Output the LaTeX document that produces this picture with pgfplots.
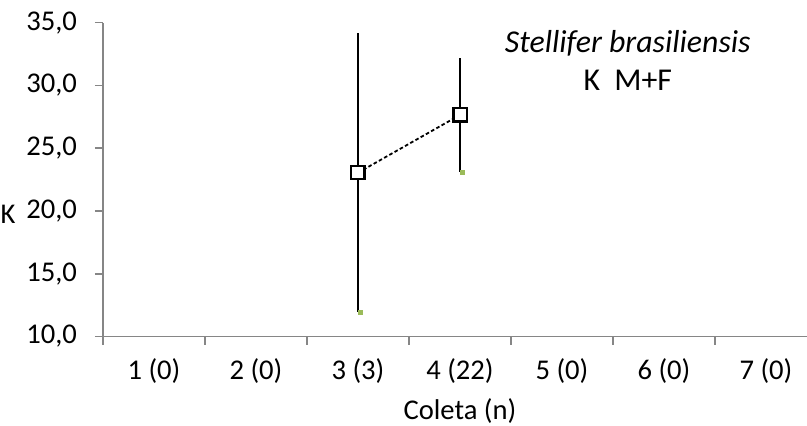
\documentclass[border=0pt]{standalone}
\usepackage{pgfplots}
\pgfplotsset{compat=1.18}
\usepackage{fontspec}
\setmainfont{Carlito}
\definecolor{axgray}{HTML}{868686}
\definecolor{capgreen}{HTML}{9BBB59}
\begin{document}
\begin{tikzpicture}
\path[use as bounding box, clip] (-51.5pt,-44.25pt) rectangle (352pt,168.25pt);
\begin{axis}[
  at={(0,0)}, anchor=south west, scale only axis,
  width=357pt, height=156.9pt,
  xmin=0, xmax=7, ymin=10, ymax=35,
  clip=false,
  axis x line*=bottom, axis y line*=left,
  axis line style={axgray, line width=0.75pt},
  tick style={axgray, line width=0.75pt},
  tick align=outside, major tick length=4pt,
  xtick={0,...,7}, x tick label as interval,
  xticklabels={1 (0),2 (0),3 (3),4 (22),5 (0),6 (0),7 (0)},
  ytick={10,15,...,35},
  ticklabel style={font=\fontsize{14.3}{17}\selectfont, black},
  xticklabel style={yshift=-3.5pt},
  yticklabel style={xshift=-5.5pt, /pgf/number format/.cd, fixed, fixed zerofill, precision=1, use comma, assume math mode=true},
  xlabel={Coleta (n)},
  xlabel style={font=\fontsize{14.3}{17}\selectfont, at={(axis description cs:0.5,-0.236)}, anchor=center},
]
\addplot[only marks, mark=none, black,
  error bars/.cd, y dir=both, y explicit,
  error bar style={line width=1pt, black}, error mark=none]
  coordinates {(2.5,23.05) +- (0,11.1) (3.5,27.65) +- (0,4.55)};
\addplot[only marks, mark=square*, mark size=1pt, capgreen, mark options={draw=capgreen, fill=capgreen}]
  coordinates {(2.52,11.95) (3.52,23.1)};
\addplot[black, line width=0.9pt, dash pattern=on 1.8pt off 1.2pt,
  mark=square*, mark size=3.3pt, mark options={solid, fill=white, draw=black, line width=1.1pt}]
  coordinates {(2.5,23.05) (3.5,27.65)};
\node[font=\fontsize{14.3}{17}\selectfont] at (axis description cs:-0.133,0.39) {K};
\node[font=\fontsize{15.9}{19}\selectfont\itshape] at (axis description cs:0.735,0.935) {Stellifer brasiliensis};
\node[font=\fontsize{15.9}{19}\selectfont] at (axis description cs:0.735,0.815) {K\ \ M+F};
\end{axis}
\end{tikzpicture}
\end{document}
